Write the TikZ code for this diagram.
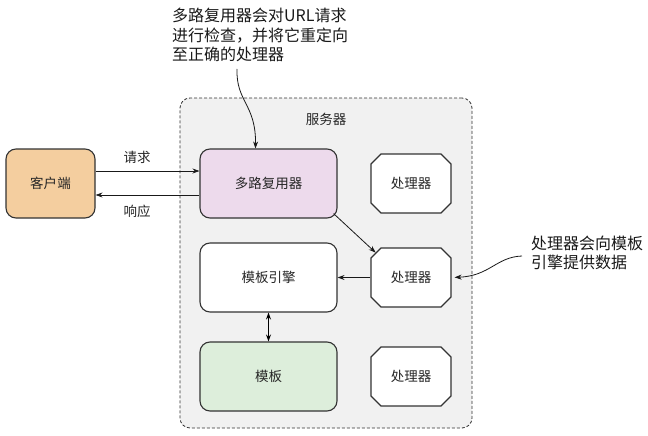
\documentclass[tikz,border=0pt]{standalone}
\usepackage{fontspec}
\setmainfont{Noto Sans CJK SC}
\usetikzlibrary{shapes.misc,arrows.meta}
\definecolor{linegray}{HTML}{333333}
\definecolor{serverfill}{HTML}{F1F1F1}
\definecolor{clientfill}{HTML}{F4CE9F}
\definecolor{muxfill}{HTML}{EDDAEC}
\definecolor{tplfill}{HTML}{DDEEDB}
\begin{document}
\begin{tikzpicture}[x=1pt,y=-1pt,
  box/.style={draw=linegray,line width=1.1pt,rounded corners=10pt,minimum width=137pt,
    minimum height=69pt,text=black!85,font=\fontsize{13.5}{16}\selectfont},
  handler/.style={draw=linegray,line width=1.1pt,fill=white,chamfered rectangle,
    chamfered rectangle xsep=4.5pt,chamfered rectangle ysep=5.5pt,minimum width=80pt,
    minimum height=59pt,inner sep=0pt,text=black!85,font=\fontsize{13.5}{16}\selectfont},
  conn/.style={-{Stealth[length=7pt,width=5pt]},line width=0.8pt,draw=black!90},
  lbl/.style={text=black!85,font=\fontsize{13.5}{16}\selectfont},
  note/.style={align=left,inner sep=0pt,text=black!90,font=\fontsize{16}{19.5}\selectfont}]
\useasboundingbox (0,0) rectangle (648,436);

\node[draw=linegray,line width=0.8pt,dash pattern=on 3pt off 2pt,fill=serverfill,
  rounded corners=10pt,minimum width=292pt,minimum height=330pt] (server) at (326,263) {};
\node[lbl] (srvlabel) at (326,119) {服务器};

\node[box,fill=clientfill,minimum width=89pt] (client) at (50.5,183.5) {客户端};
\node[box,fill=muxfill] (mux) at (268.5,183.5) {多路复用器};
\node[box,fill=white] (engine) at (268.5,277.5) {模板引擎};
\node[box,fill=tplfill] (tpl) at (268.5,376.5) {模板};
\foreach \name/\y in {hA/183.5,hB/277.5,hC/376.5}{
  \node[handler] (\name) at (411,\y) {处理器};
}

\node[note,anchor=west] (muxnote) at (172,35) {多路复用器会对URL请求\\进行检查，并将它重定向\\至正确的处理器};
\node[note,anchor=west] (datanote) at (531,253) {处理器会向模板\\引擎提供数据};

\draw[conn] ([yshift=12.5pt]client.east) -- ([yshift=12.5pt]mux.west)
  node[lbl,pos=0.4,yshift=14pt] {请求};
\draw[conn] ([yshift=-11.5pt]mux.west) -- ([yshift=-11.5pt]client.east)
  node[lbl,pos=0.6,yshift=-16pt] {响应};

\coordinate (muxnoteend) at (237,69);
\draw[conn] (muxnoteend) .. controls (236,102) and (256,104) .. ([xshift=-13pt]mux.north);
\coordinate (datanoteend) at (522,256);
\draw[conn,shorten >=3pt] (datanoteend) .. controls (496,257) and (490,276) .. (hB.east);

\draw[conn] ([shift={(-4pt,5pt)}]mux.south east) -- (hB.north west);
\draw[conn] (hB.west) -- (engine.east);
\draw[{Stealth[length=7pt,width=5pt]}-{Stealth[length=7pt,width=5pt]},line width=0.8pt]
  (engine.south) -- (tpl.north);
\end{tikzpicture}
\end{document}
